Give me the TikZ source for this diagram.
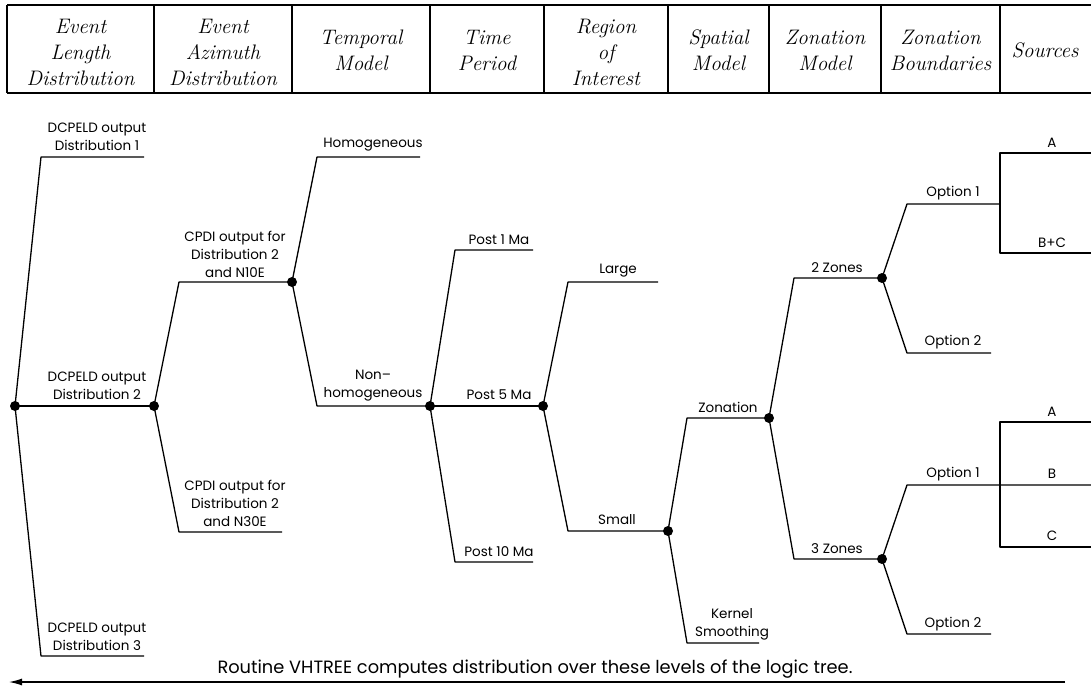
\documentclass[tikz,border=0pt]{standalone}
\usepackage{fontspec}
\newfontfamily\tfont{Poppins}
\usetikzlibrary{arrows.meta}
\tikzset{
  tline/.style={line width=1.3pt, line join=round},
  hline/.style={line width=1.4pt},
  tdot/.style={circle, fill=black, inner sep=0pt, minimum size=10pt},
  lab/.style={font=\tfont\fontsize{13.5}{18}\selectfont, align=center, inner sep=0pt},
  hdr/.style={font=\fontsize{21}{26}\selectfont\itshape, align=center, inner sep=0pt},
  note/.style={font=\tfont\fontsize{17.8}{20}\selectfont, inner sep=0pt}
}
\begin{document}
\begin{tikzpicture}[x=1pt,y=-1pt]
\useasboundingbox (0,0) rectangle (1091,686);
% ---------- header ----------
\draw[hline] (7,5) -- (1091,5);
\draw[hline] (7,93) -- (1091,93);
\foreach \xx in {7,154,292,430,544,668,769,881,1000}{\draw[hline] (\xx,5) -- (\xx,93);}
\node[hdr] (h1) at (80.5,52) {Event\\Length\\Distribution};
\node[hdr] (h2) at (223,52) {Event\\Azimuth\\Distribution};
\node[hdr] (h3) at (361,50) {Temporal\\Model};
\node[hdr] (h4) at (487,50) {Time\\Period};
\node[hdr] (h5) at (606,52) {Region\\of\\Interest};
\node[hdr] (h6) at (718.5,50) {Spatial\\Model};
\node[hdr] (h7) at (825,50) {Zonation\\Model};
\node[hdr] (h8) at (940.5,50) {Zonation\\Boundaries};
\node[hdr] (h9) at (1045,50) {Sources};
% ---------- tree points ----------
\node[tdot] (R) at (15,406) {};
\node[tdot] (D1) at (154,406) {};
\node[tdot] (D2) at (292,282) {};
\node[tdot] (D3) at (430,406) {};
\node[tdot] (D4) at (543,406) {};
\node[tdot] (D5) at (668,531) {};
\node[tdot] (D6) at (769,418) {};
\node[tdot] (D7) at (882,278) {};
\node[tdot] (D8) at (882,559) {};
% level 1
\coordinate (b1a) at (41,157); \coordinate (e1a) at (144,157);
\coordinate (b1c) at (41,656); \coordinate (e1c) at (144,656);
% level 2
\coordinate (b2a) at (179,282);
\coordinate (b2b) at (179,532); \coordinate (e2b) at (282,532);
% level 3
\coordinate (b3a) at (317,157); \coordinate (e3a) at (420,157);
\coordinate (b3b) at (317,406);
% level 4
\coordinate (b4a) at (455,250); \coordinate (e4a) at (533,250);
\coordinate (b4c) at (455,562); \coordinate (e4c) at (533,562);
% level 5
\coordinate (b5a) at (568,282); \coordinate (e5a) at (658,282);
\coordinate (b5b) at (568,531);
% level 6
\coordinate (b6a) at (687,418);
\coordinate (b6b) at (687,643); \coordinate (e6b) at (759,643);
% level 7
\coordinate (b7a) at (794,278);
\coordinate (b7b) at (794,559);
% level 8
\coordinate (b8a) at (907,204); \coordinate (e8a) at (1000,204);
\coordinate (b8b) at (907,353); \coordinate (e8b) at (991,353);
\coordinate (b8c) at (907,485); \coordinate (e8c) at (1091,485);
\coordinate (b8d) at (907,634); \coordinate (e8d) at (991,634);
% level 9
\coordinate (s1t) at (1000,153); \coordinate (s1te) at (1091,153);
\coordinate (s1b) at (1000,253); \coordinate (s1be) at (1091,253);
\coordinate (s2t) at (1000,422); \coordinate (s2te) at (1091,422);
\coordinate (s2b) at (1000,547); \coordinate (s2be) at (1091,547);
% ---------- connectors ----------
\draw[tline] (R.center) -- (b1a) -- (e1a);
\draw[tline] (R.center) -- (D1.center);
\draw[tline] (R.center) -- (b1c) -- (e1c);
\draw[tline] (D1.center) -- (b2a) -- (D2.center);
\draw[tline] (D1.center) -- (b2b) -- (e2b);
\draw[tline] (D2.center) -- (b3a) -- (e3a);
\draw[tline] (D2.center) -- (b3b) -- (D3.center);
\draw[tline] (D3.center) -- (b4a) -- (e4a);
\draw[tline] (D3.center) -- (D4.center);
\draw[tline] (D3.center) -- (b4c) -- (e4c);
\draw[tline] (D4.center) -- (b5a) -- (e5a);
\draw[tline] (D4.center) -- (b5b) -- (D5.center);
\draw[tline] (D5.center) -- (b6a) -- (D6.center);
\draw[tline] (D5.center) -- (b6b) -- (e6b);
\draw[tline] (D6.center) -- (b7a) -- (D7.center);
\draw[tline] (D6.center) -- (b7b) -- (D8.center);
\draw[tline] (D7.center) -- (b8a) -- (e8a);
\draw[tline] (D7.center) -- (b8b) -- (e8b);
\draw[tline] (D8.center) -- (b8c) -- (e8c);
\draw[tline] (D8.center) -- (b8d) -- (e8d);
\draw[tline] (s1te) -- (s1t) -- (s1b) -- (s1be);
\draw[tline] (s2te) -- (s2t) -- (s2b) -- (s2be);
% ---------- labels ----------
\node[lab] (l1a) at (97,137) {DCPELD output\\Distribution 1};
\node[lab] (l1b) at (97,386) {DCPELD output\\Distribution 2};
\node[lab] (l1c) at (97,637) {DCPELD output\\Distribution 3};
\node[lab] (l2a) at (235,254) {CPDI output for\\Distribution 2\\and N10E};
\node[lab] (l2b) at (235,503) {CPDI output for\\Distribution 2\\and N30E};
\node[lab] (l3a) at (373,145) {Homogeneous};
\node[lab] (l3b) at (373,386) {Non–\\homogeneous};
\node[lab] (l4a) at (499,240) {Post 1 Ma};
\node[lab] (l4b) at (499,395) {Post 5 Ma};
\node[lab] (l4c) at (499,552) {Post 10 Ma};
\node[lab] (l5a) at (618,271) {Large};
\node[lab] (l5b) at (617,520) {Small};
\node[lab] (l6a) at (728,407) {Zonation};
\node[lab] (l6b) at (732,624) {Kernel\\Smoothing};
\node[lab] (l7a) at (837,268) {2 Zones};
\node[lab] (l7b) at (837,549) {3 Zones};
\node[lab] (l8a) at (953,193) {Option 1};
\node[lab] (l8b) at (953,342) {Option 2};
\node[lab] (l8c) at (953,474) {Option 1};
\node[lab] (l8d) at (953,624) {Option 2};
\node[lab] (l9a) at (1052,143) {A};
\node[lab] (l9b) at (1052,243) {B+C};
\node[lab] (l9c) at (1052,412) {A};
\node[lab] (l9d) at (1052,474) {B};
\node[lab] (l9e) at (1052,536) {C};
% ---------- bottom arrow ----------
\coordinate (aR) at (1065,682); \coordinate (aL) at (9,682);
\draw[line width=1.3pt, -{Latex[length=13pt,width=7pt]}] (aR) -- (aL);
\node[note] (nt) at (535,669) {Routine VHTREE computes distribution over these levels of the logic tree.};
\end{tikzpicture}
\end{document}
